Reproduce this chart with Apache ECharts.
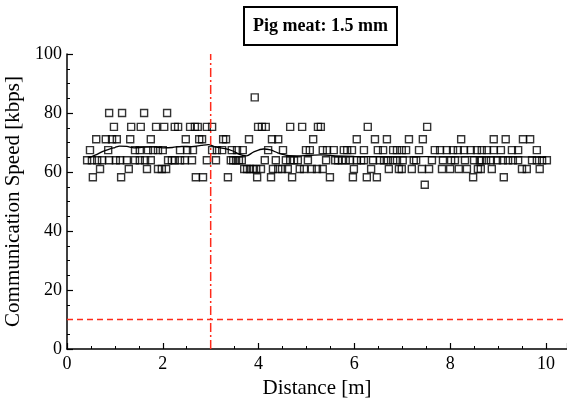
<!DOCTYPE html>
<html>
<head>
<meta charset="utf-8">
<script src="https://cdn.jsdelivr.net/npm/echarts@6/dist/echarts.min.js"></script>
<style>
  html, body { margin: 0; padding: 0; background: #fff; }
  #chart { width: 567px; height: 402px; }
</style>
</head>
<body>
<div id="chart"></div>
<script>
// measured speeds [kbps] and the distances [m] where each one was recorded
var speed85 = [3.92];
var speed80 = [0.88, 1.15, 1.61, 2.09];
var speed75 = [0.98, 1.34, 1.54, 1.86, 2.03, 2.25, 2.32, 2.57, 2.67, 2.73, 2.92, 3.03,
  3.99, 4.07, 4.15, 4.66, 4.91, 5.24, 5.30, 6.28, 7.52];
var speed71 = [0.61, 0.81, 0.94, 1.04, 1.32, 1.75, 2.48, 2.76, 2.82, 3.26, 3.32, 3.80,
  4.28, 4.41, 5.14, 6.05, 6.43, 6.68, 7.14, 7.43, 8.23, 8.91, 9.16, 9.52, 9.67];
var speed67 = [0.48, 0.86, 1.42, 1.52, 1.69, 1.80, 1.90, 2.00, 2.36, 2.51, 2.63, 3.03,
  3.13, 3.24, 3.44, 3.55, 3.67, 4.20, 4.51, 4.99, 5.07, 5.34, 5.43, 5.57, 5.78, 5.85,
  5.95, 6.20, 6.49, 6.60, 6.81, 6.89, 6.99, 7.08, 7.35, 7.68, 7.79, 7.93, 8.06, 8.16,
  8.29, 8.43, 8.56, 8.66, 8.77, 8.91, 9.06, 9.29, 9.42, 9.81];
var speed64 = [0.42, 0.52, 0.63, 0.73, 0.88, 1.02, 1.11, 1.25, 1.42, 1.52, 1.63, 1.75,
  2.11, 2.19, 2.25, 2.36, 2.46, 2.61, 2.92, 3.11, 3.42, 3.47, 3.53, 3.59, 3.65, 4.13,
  4.36, 4.57, 4.66, 4.74, 4.82, 5.03, 5.41, 5.60, 5.66, 5.74, 5.82, 5.91, 6.05, 6.14,
  6.20, 6.39, 6.53, 6.62, 6.70, 6.81, 6.89, 7.01, 7.24, 7.29, 7.62, 7.85, 8.02, 8.10,
  8.31, 8.50, 8.62, 8.66, 8.75, 8.85, 8.98, 9.10, 9.21, 9.31, 9.42, 9.71, 9.81, 9.92, 10.02];
var speed61 = [0.69, 1.29, 1.67, 1.90, 1.98, 2.07, 3.70, 3.76, 3.82, 3.88, 3.95, 4.05,
  4.30, 4.41, 4.49, 4.61, 4.86, 4.95, 5.11, 5.22, 5.34, 5.99, 6.35, 6.72, 6.93, 6.99,
  7.20, 7.41, 7.56, 7.83, 8.00, 8.18, 8.35, 8.58, 8.64, 8.87, 9.50, 9.60, 9.87];
var speed58 = [0.54, 1.13, 2.69, 2.84, 3.36, 3.97, 4.26, 4.70, 5.49, 5.97, 6.26, 6.47, 8.48, 9.12];
var speed56 = [7.47];

var levels = [85.3, 80, 75.3, 71.1, 67.4, 64, 61, 58.2, 55.7];
var levelDist = [speed85, speed80, speed75, speed71, speed67, speed64, speed61, speed58, speed56];

// running average curve
var avgDist = [0.45, 0.6, 0.75, 0.9, 1.0, 1.1, 1.25, 1.4, 1.6, 1.8, 2.0, 2.2, 2.4, 2.6, 2.8,
  2.95, 3.1, 3.3, 3.45, 3.6, 3.75, 3.9, 4.1, 4.25, 4.4, 4.6, 4.8, 5.0, 5.3, 5.6, 6.0, 6.5,
  7.0, 7.5, 8.0, 8.5, 9.0, 9.5, 10.0];
var avgSpeed = [64.8, 65.8, 67, 67.8, 68.3, 68.8, 68.7, 68.2, 68.4, 68.5, 68.2, 68.3, 68.7,
  68.6, 69.0, 69.3, 68.5, 67.9, 67.2, 66.0, 65.5, 66.8, 67.8, 67.5, 66.5, 65.6, 65.5, 65.6,
  65.8, 65.5, 65.3, 65.2, 65.1, 65.2, 65.1, 65.2, 65.1, 65.1, 65.0];

var limitDist = 3;    // vertical marker
var minSpeed = 10;    // horizontal marker
var xMax = 10.44;

var points = [];
levels.forEach(function (v, i) {
  levelDist[i].forEach(function (d) { points.push([d, v]); });
});
var avgLine = avgDist.map(function (d, i) { return [d, avgSpeed[i]]; });

var font = 'Liberation Serif';
var chart = echarts.init(document.getElementById('chart'));

var option = {
  animation: false,
  title: {
    text: 'Pig meat: 1.5 mm',
    left: 244,
    top: 7,
    padding: [10, 9],
    borderColor: '#000',
    borderWidth: 2,
    textStyle: { fontFamily: font, fontWeight: 'bold', fontSize: 18, color: '#000' }
  },
  grid: { left: 67, right: 0, top: 54, bottom: 53, containLabel: false, outerBoundsMode: 'none' },
  xAxis: {
    type: 'value',
    min: 0,
    max: xMax,
    interval: 2,
    name: 'Distance [m]',
    nameLocation: 'middle',
    nameGap: 27,
    nameTextStyle: { fontFamily: font, fontSize: 21, color: '#000' },
    axisLine: { lineStyle: { color: '#000', width: 1.5 } },
    axisTick: { inside: true, length: 6, lineStyle: { color: '#000', width: 1.2 } },
    minorTick: { show: true, splitNumber: 4, length: 3, lineStyle: { color: '#000' } },
    axisLabel: {
      fontFamily: font, fontSize: 18, color: '#000', margin: 6,
      formatter: function (v) { return v % 2 === 0 ? v : ''; }
    },
    splitLine: { show: false }
  },
  yAxis: {
    type: 'value',
    min: 0,
    max: 100,
    interval: 20,
    name: 'Communication Speed [kbps]',
    nameLocation: 'middle',
    nameGap: 41,
    nameTextStyle: { fontFamily: font, fontSize: 21, color: '#000' },
    axisLine: { show: true, lineStyle: { color: '#000', width: 1.5 } },
    axisTick: { inside: true, length: 6, lineStyle: { color: '#000', width: 1.2 } },
    minorTick: { show: true, splitNumber: 4, length: 3, lineStyle: { color: '#000' } },
    axisLabel: { fontFamily: font, fontSize: 18, color: '#000', margin: 5 },
    splitLine: { show: false }
  },
  series: [
    {
      type: 'scatter',
      data: points,
      symbol: 'rect',
      symbolSize: 7,
      itemStyle: { color: 'rgba(0,0,0,0)', borderColor: '#000', borderWidth: 1.4 }
    },
    {
      type: 'line',
      data: avgLine,
      showSymbol: false,
      smooth: 0.3,
      lineStyle: { color: '#000', width: 1.3 }
    },
    {
      type: 'line',
      data: [[limitDist, 0], [limitDist, 100]],
      showSymbol: false,
      lineStyle: { color: '#ff2a1a', width: 1.5, type: [9, 3, 2, 3] }
    },
    {
      type: 'line',
      data: [[0, minSpeed], [xMax, minSpeed]],
      showSymbol: false,
      lineStyle: { color: '#ff2a1a', width: 1.5, type: [6, 4] }
    }
  ]
};

chart.setOption(option);
</script>
</body>
</html>
